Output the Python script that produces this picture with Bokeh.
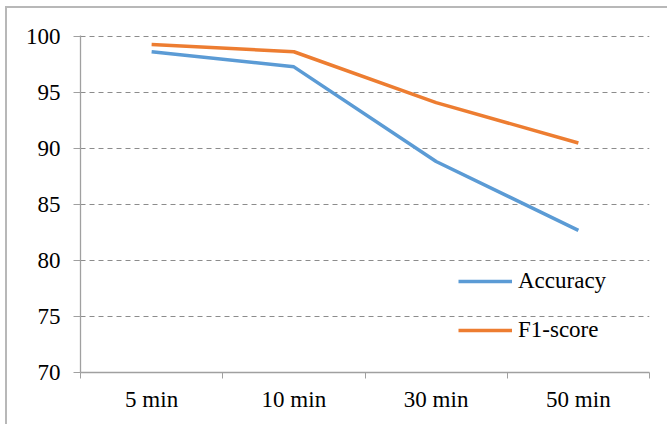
from bokeh.plotting import figure
from bokeh.models import Range1d, FixedTicker, Legend, LegendItem
from bokeh.embed import file_html
from bokeh.resources import INLINE

categories = ["5 min", "10 min", "30 min", "50 min"]
accuracy = [98.65, 97.3, 88.85, 82.7]
f1_score = [99.3, 98.65, 94.1, 90.5]
y_ticks = [70, 75, 80, 85, 90, 95, 100]

FONT = "Times New Roman, Liberation Serif, serif"
FS = "23px"

xs = [i + 0.5 for i in range(len(categories))]

p = figure(width=662, height=418, output_backend="svg", toolbar_location=None,
           x_range=Range1d(0, len(categories)), y_range=Range1d(70, 100.1),
           min_border_left=73, min_border_right=20, min_border_top=27, min_border_bottom=54)
p.styles = {"margin-left": "5px", "margin-top": "6px",
            "border-left": "2px solid #b8b8b8", "border-top": "2px solid #b8b8b8"}
p.outline_line_color = None
p.background_fill_color = "white"
p.border_fill_color = "white"

r1 = p.line(xs, accuracy, line_color="#5B9BD5", line_width=3.5)
r2 = p.line(xs, f1_score, line_color="#ED7D31", line_width=3.5)

# axes
p.xaxis.ticker = FixedTicker(ticks=xs, minor_ticks=list(range(len(categories) + 1)))
p.xaxis.major_label_overrides = {x: c for x, c in zip(xs, categories)}
p.xaxis.major_tick_out = 0
p.xaxis.major_tick_in = 0
p.xaxis.minor_tick_out = 6
p.xaxis.minor_tick_in = 0
p.xaxis.minor_tick_line_color = "#a0a0a0"
p.xaxis.axis_line_color = "#a0a0a0"
p.xaxis.major_label_standoff = 8

p.yaxis.ticker = FixedTicker(ticks=y_ticks)
p.yaxis.major_tick_out = 7
p.yaxis.major_tick_in = 0
p.yaxis.minor_tick_line_color = None
p.yaxis.major_tick_line_color = "#a0a0a0"
p.yaxis.axis_line_color = "#a0a0a0"
p.yaxis.major_label_standoff = 13

for ax in (p.xaxis, p.yaxis):
    ax.major_label_text_font = FONT
    ax.major_label_text_font_size = FS
    ax.major_label_text_color = "black"
    ax.axis_line_width = 1.3

p.xgrid.grid_line_color = None
p.ygrid.ticker = FixedTicker(ticks=y_ticks[1:])
p.ygrid.grid_line_color = "#8c8c8c"
p.ygrid.grid_line_dash = "5 4"
p.ygrid.grid_line_width = 1.2

legend = Legend(items=[LegendItem(label="Accuracy", renderers=[r1]),
                       LegendItem(label="F1-score", renderers=[r2])],
                location=(378, 29), orientation="vertical",
                glyph_width=54, glyph_height=24, label_height=24, label_standoff=6,
                spacing=23, padding=0, margin=0,
                border_line_color=None, background_fill_alpha=0,
                label_text_font=FONT, label_text_font_size=FS, label_text_color="black")
p.add_layout(legend, "center")

open("out.html", "w").write(file_html(p, INLINE))
